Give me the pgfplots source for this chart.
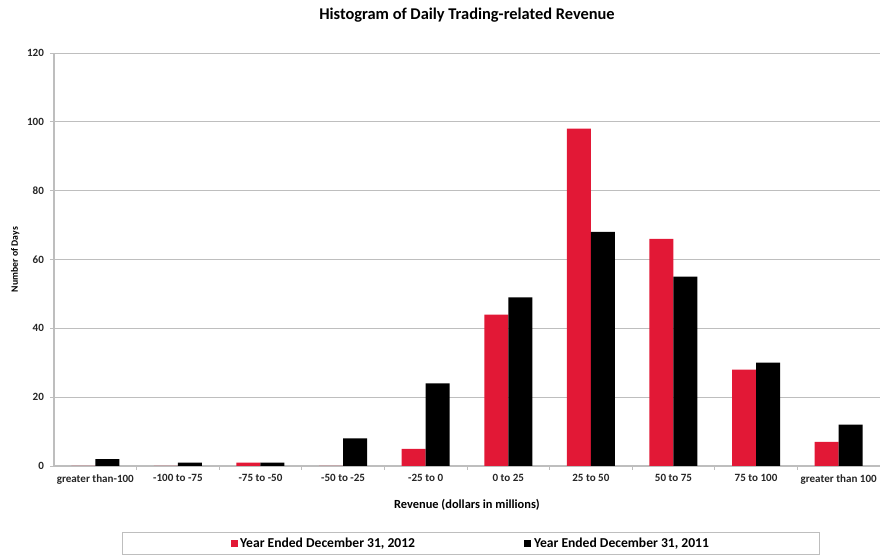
\documentclass[border=0pt]{standalone}
\usepackage{fontspec}
\setmainfont{Carlito}
\usepackage{pgfplots}
\pgfplotsset{compat=1.18}
\definecolor{redbar}{RGB}{226,24,54}
\definecolor{gridgray}{RGB}{190,190,190}
\begin{document}
\begin{tikzpicture}
\begin{axis}[
  at={(0,0)}, anchor=south west,
  scale only axis, width=619.5pt, height=309.75pt,
  ybar=0pt, bar width=18pt,
  xmin=-0.5, xmax=9.5, ymin=0, ymax=120,
  ytick={0,20,...,120},
  xtick={0,...,9},
  xticklabels={greater than-100,-100 to -75,-75 to -50,-50 to -25,-25 to 0,0 to 25,25 to 50,50 to 75,75 to 100,greater than 100},
  minor xtick={0.5,1.5,...,8.5},
  major x tick style={draw=none},
  minor tick length=3pt,
  tick align=outside,
  major tick length=3pt,
  axis x line*=bottom, axis y line*=left,
  axis line style={gridgray, line width=0.8pt},
  tick style={gridgray, line width=0.6pt},
  ymajorgrids, grid style={gridgray, line width=0.7pt},
  tick label style={font=\bfseries\fontsize{8.3}{9}\selectfont, text=black!85},
  yticklabel style={xshift=-1pt},
  xticklabel style={yshift=0pt},
  /pgf/number format/assume math mode=true,
  title={Histogram of Daily Trading-related Revenue},
  title style={font=\bfseries\fontsize{12.3}{14}\selectfont, at={(axis description cs:0.5,1)}, anchor=center, yshift=22.5pt},
  xlabel={Revenue (dollars in millions)},
  xlabel style={font=\bfseries\fontsize{9.3}{10}\selectfont, at={(axis description cs:0.5,-0.094)}, anchor=center},
  ylabel={Number of Days},
  ylabel style={font=\bfseries\fontsize{7.3}{8}\selectfont, at={(axis description cs:-0.047,0.5)}, anchor=center},
  legend columns=2,
  legend style={at={(0.505,-0.16)}, anchor=north, draw=gridgray, line width=0.8pt,
    font=\bfseries\fontsize{10.2}{11}\selectfont, inner xsep=81pt, inner ysep=2pt,
    /tikz/every even column/.append style={column sep=80pt}},
  legend image code/.code={\fill[#1, draw=none] (0pt,-2.6pt) rectangle (5.2pt,2.6pt);},
]
\addplot[fill=redbar, draw=none] coordinates {(0,0) (1,0) (2,1) (3,0) (4,5) (5,44) (6,98) (7,66) (8,28) (9,7)};
\addlegendentry{Year Ended December 31, 2012}
\addplot[fill=black, draw=none] coordinates {(0,2) (1,1) (2,1) (3,8) (4,24) (5,49) (6,68) (7,55) (8,30) (9,12)};
\addlegendentry{Year Ended December 31, 2011}
\end{axis}
\pgfresetboundingbox
\useasboundingbox (-40.5pt,-70.5pt) rectangle (624pt,349.5pt);
\end{tikzpicture}
\end{document}
